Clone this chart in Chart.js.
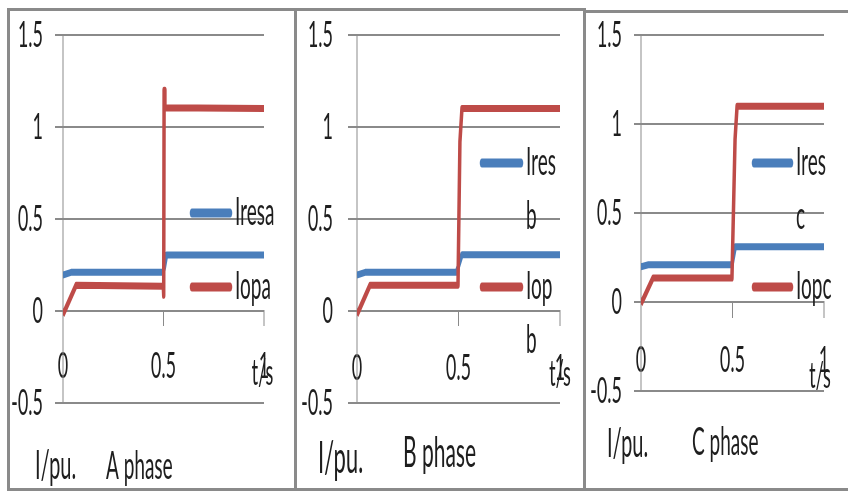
<!DOCTYPE html>
<html>
<head>
<meta charset="utf-8">
<script src="https://cdn.jsdelivr.net/npm/chart.js@4.4.1/dist/chart.umd.min.js"></script>
<style>
  html, body { margin: 0; padding: 0; background: #fff; }
  body { width: 848px; height: 491px; position: relative; overflow: hidden; }
  .frame { position: absolute; border: 3px solid #8a8a8a; box-sizing: border-box; }
  /* the source picture is stretched 2x vertically, so draw at half height and scale */
  canvas { position: absolute; top: 0; transform: scaleY(2); transform-origin: 0 0; }
</style>
</head>
<body>
<div class="frame" style="left:7px;top:8px;width:290px;height:483px"></div>
<div class="frame" style="left:294px;top:8px;width:292px;height:483px"></div>
<div class="frame" style="left:583px;top:10px;width:270px;height:481px"></div>
<canvas id="phaseA" width="284" height="246" style="left:10px"></canvas>
<canvas id="phaseB" width="286" height="246" style="left:297px"></canvas>
<canvas id="phaseC" width="262" height="246" style="left:586px"></canvas>
<script>
// axis ticks
const xTickValues = [0, 0.5, 1];
const yTickValues = [-0.5, 0, 0.5, 1, 1.5];

// A phase
const tIresA = [0, 0.04, 0.5, 0.515, 1];
const iresA  = [0.195, 0.21, 0.21, 0.305, 0.305];
const tIopA  = [0, 0.065, 0.499, 0.501, 0.503, 0.507, 1];
const iopA   = [-0.02, 0.14, 0.135, 0.085, 1.2, 1.105, 1.1];

// B phase
const tIresB = [0, 0.04, 0.49, 0.517, 1];
const iresB  = [0.195, 0.21, 0.21, 0.306, 0.306];
const tIopB  = [0, 0.064, 0.4975, 0.507, 0.517, 1];
const iopB   = [-0.02, 0.14, 0.14, 0.92, 1.1, 1.1];

// C phase
const tIresC = [0, 0.04, 0.497, 0.515, 1];
const iresC  = [0.198, 0.209, 0.209, 0.31, 0.31];
const tIopC  = [0, 0.066, 0.497, 0.514, 0.525, 1];
const iopC   = [-0.01, 0.135, 0.135, 0.915, 1.1, 1.1];

// legend texts (wrapped like the original)
const legendA = [['Iresa'], ['Iopa']];
const legendB = [['Ires', 'b'], ['Iop', 'b']];
const legendC = [['Ires', 'c'], ['Iopc']];

const BLUE = '#4a7ebb';
const RED = '#be4b48';
const GRID = '#8a8a8a';
const TEXT = '#1e1e1e';
const FONT = 'Lato, "Open Sans", sans-serif';

const toPoints = (ts, vs) => ts.map((t, i) => ({ x: t, y: vs[i] }));

// legend, axis unit and phase caption
const phaseText = {
    id: 'phaseText',
    afterDraw(chart, args, o) {
        const { ctx, chartArea, scales } = chart;
        ctx.save();
        ctx.textAlign = 'left';
        ctx.textBaseline = 'middle';
        chart.data.datasets.forEach((ds, i) => {
            const x0 = chartArea.left + o.legendX;
            const y = chartArea.top + o.legendRows[i];
            ctx.strokeStyle = ds.borderColor;
            ctx.lineWidth = 4.5;
            ctx.lineCap = 'round';
            ctx.beginPath();
            ctx.moveTo(x0 + 2, y);
            ctx.lineTo(x0 + o.legendLen - 2, y);
            ctx.stroke();
            ctx.fillStyle = TEXT;
            ctx.font = `19px ${FONT}`;
            o.legend[i].forEach((line, k) => ctx.fillText(line, x0 + o.legendLen + 3, y + k * 27));
        });

        ctx.textAlign = 'center';
        ctx.font = `18px ${FONT}`;
        ctx.fillText('t/s', scales.x.getPixelForValue(1) + o.tsDx, scales.y.getPixelForValue(0) + o.tsDy);

        ctx.textAlign = 'left';
        ctx.textBaseline = 'alphabetic';
        ctx.font = `${o.unitSize}px ${FONT}`;
        ctx.fillText('I/pu.', o.unit[0], o.unit[1]);
        ctx.font = `${o.titleSize}px ${FONT}`;
        ctx.fillText(o.title, o.titlePos[0], o.titlePos[1]);
        ctx.restore();
    }
};

function phaseChart(id, c) {
    const tickFont = { family: FONT, size: 18 };
    const plain = v => String(v);
    return new Chart(document.getElementById(id), {
        type: 'line',
        data: {
            datasets: [
                { label: c.legend[0].join(''), data: toPoints(c.tIres, c.ires), borderColor: BLUE, order: 1 },
                { label: c.legend[1].join(''), data: toPoints(c.tIop, c.iop), borderColor: RED, order: 0 }
            ]
        },
        options: {
            responsive: false,
            animation: false,
            devicePixelRatio: 2,
            elements: {
                point: { radius: 0 },
                line: { borderWidth: 3.5, tension: 0, fill: false, borderJoinStyle: 'round' }
            },
            layout: { padding: { left: 0, top: 17.5, right: c.padRight, bottom: c.padBottom } },
            plugins: {
                legend: { display: false },
                tooltip: { enabled: false },
                phaseText: c
            },
            scales: {
                x: {
                    type: 'linear',
                    position: { y: 0 },
                    min: 0,
                    max: 1,
                    afterBuildTicks: s => { s.ticks = xTickValues.map(v => ({ value: v })); },
                    grid: { drawOnChartArea: false, tickLength: c.xTick, color: GRID },
                    border: { color: GRID },
                    ticks: { font: tickFont, color: TEXT, padding: c.xPad, maxRotation: 0, callback: plain }
                },
                y: {
                    min: -0.5,
                    max: 1.5,
                    afterBuildTicks: s => { s.ticks = yTickValues.map(v => ({ value: v })); },
                    afterFit: s => {
                        s.width = c.yWidth;
                        s.paddingTop = 0;
                        s.paddingBottom = 0;
                    },
                    grid: { color: GRID, tickLength: c.yTick },
                    border: { color: GRID },
                    ticks: { font: tickFont, color: TEXT, padding: c.yPad, callback: plain }
                }
            }
        },
        plugins: [phaseText]
    });
}

phaseChart('phaseA', {
    tIres: tIresA, ires: iresA, tIop: tIopA, iop: iopA, legend: legendA,
    yWidth: 53, padRight: 30, padBottom: 44.5, yTick: 8, yPad: 12, xTick: 7, xPad: 10,
    legendX: 127, legendLen: 42, legendRows: [89, 126],
    tsDx: -1.5, tsDy: 31,
    unit: [25, 239.5], unitSize: 20, title: 'A phase', titlePos: [96, 239.5], titleSize: 19
});

phaseChart('phaseB', {
    tIres: tIresB, ires: iresB, tIop: tIopB, iop: iopB, legend: legendB,
    yWidth: 60, padRight: 23, padBottom: 44.5, yTick: 9, yPad: 15, xTick: 7, xPad: 11,
    legendX: 123, legendLen: 43, legendRows: [64, 126],
    tsDx: 0, tsDy: 31.5,
    unit: [21, 236.5], unitSize: 22, title: 'B phase', titlePos: [106, 233.5], titleSize: 21
});

phaseChart('phaseC', {
    tIres: tIresC, ires: iresC, tIop: tIopC, iop: iopC, legend: legendC,
    yWidth: 55, padRight: 24, padBottom: 50.5, yTick: 7, yPad: 12, xTick: 7.5, xPad: 11,
    legendX: 111, legendLen: 41, legendRows: [64, 126],
    tsDx: -4, tsDy: 37,
    unit: [21, 228.5], unitSize: 20, title: 'C phase', titlePos: [106, 227.5], titleSize: 19
});
</script>
</body>
</html>
